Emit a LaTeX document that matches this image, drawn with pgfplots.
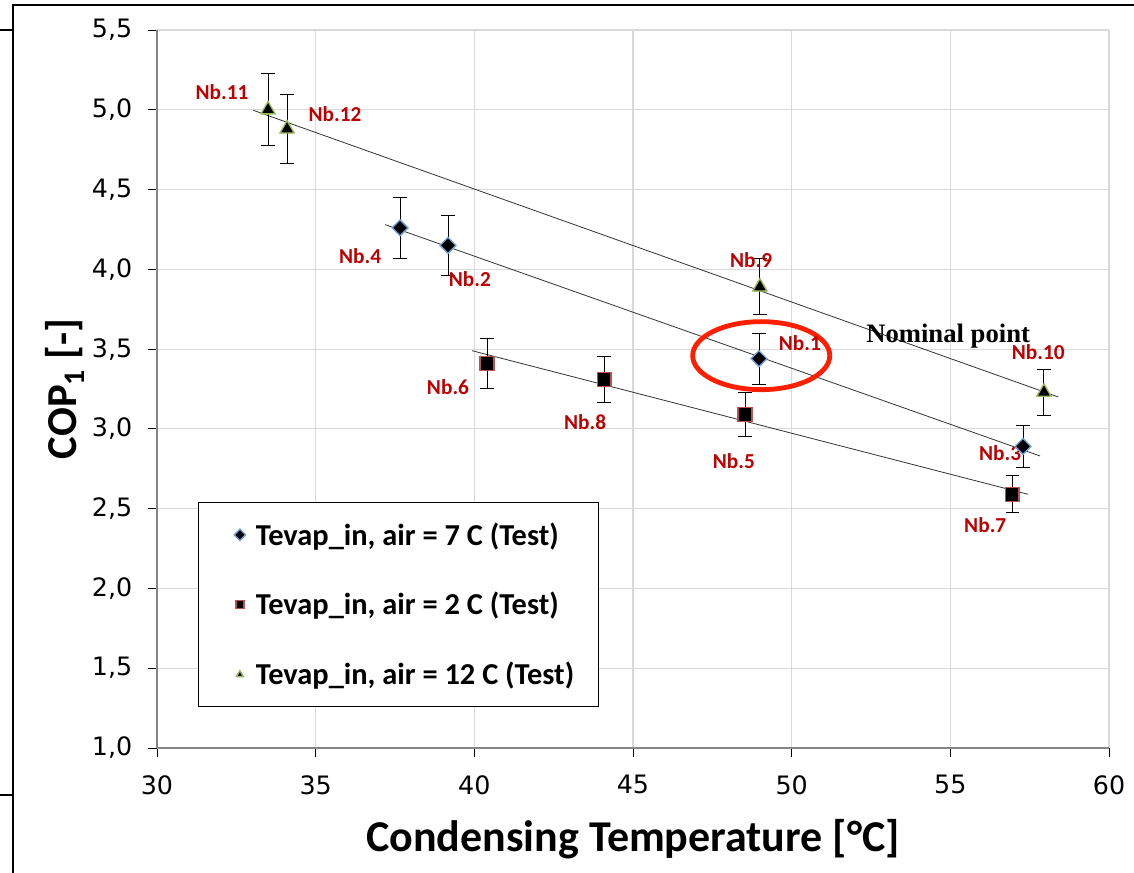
\documentclass[border=0pt]{standalone}
\usepackage{fontspec}
\setmainfont{Carlito}
\newfontfamily\tickfont{DejaVu Sans}
\newfontfamily\serifbf{Liberation Serif}
\usepackage{pgfplots}
\pgfplotsset{compat=1.18}

\definecolor{gridgray}{RGB}{217,217,217}
\definecolor{axisgray}{RGB}{134,134,134}
\definecolor{lblred}{RGB}{192,0,0}
\definecolor{edgeblue}{RGB}{110,160,220}
\definecolor{edgered}{RGB}{192,80,77}
\definecolor{edgegreen}{RGB}{155,187,89}
\definecolor{ringred}{RGB}{255,30,0}

\pgfplotstableread{
x     y     e
37.66 4.26  0.19
39.17 4.15  0.19
48.97 3.44  0.16
57.29 2.89  0.13
}\tsevenC
\pgfplotstableread{
x     y     e
40.40 3.41  0.155
44.09 3.31  0.145
48.53 3.09  0.14
56.95 2.59  0.115
}\ttwoC
\pgfplotstableread{
x     y     e
33.50 5.00  0.225
34.10 4.88  0.215
49.00 3.89  0.175
57.95 3.23  0.145
}\ttwelveC

\begin{document}
\begin{tikzpicture}
\begin{axis}[
  at={(0,0)}, anchor=south west,
  scale only axis,
  width=714pt, height=538.5pt,
  xmin=30, xmax=60, ymin=1, ymax=5.5,
  xtick={30,35,...,60},
  ytick={1,1.5,...,5.5},
  grid=major,
  major grid style={gridgray, line width=0.8pt},
  axis x line*=bottom, axis y line*=left,
  axis line style={axisgray, line width=0.9pt},
  tick align=outside,
  major tick length=7pt,
  tick style={black, line width=0.6pt},
  /pgf/number format/assume math mode=true,
  tick label style={font=\tickfont\fontsize{19}{21}\selectfont},
  yticklabel style={xshift=-8pt, /pgf/number format/.cd, fixed, fixed zerofill, precision=1, use comma},
  xticklabel style={yshift=-10pt},
  xlabel={\bfseries Condensing Temperature [°C]},
  ylabel={\bfseries COP\textsubscript{1} [-]},
  xlabel style={font=\fontsize{33}{38}\selectfont, yshift=-12pt},
  ylabel style={font=\fontsize{32}{36}\selectfont, yshift=-1pt},
  legend style={at={(0.0431,0.3426)}, anchor=north west,
    draw=black, line width=0.8pt, fill=white,
    font=\bfseries\fontsize{22.8}{27}\selectfont,
    inner xsep=16pt, inner ysep=13pt, row sep=30pt,
    cells={anchor=west}},
  legend image code/.code={\path[draw=none, fill=none] (0pt,0pt) -- (25pt,0pt);
    \draw[#1, mark size=3pt, line width=0.6pt] plot coordinates {(15pt,0pt)};},
  error bars/error bar style={black, line width=0.7pt},
  error bars/error mark options={black, mark size=5pt, line width=0.7pt, rotate=90},
]
% trend lines
\addplot[black!80, line width=0.6pt, forget plot] coordinates {(37.19,4.28) (57.83,2.83)};
\addplot[black!80, line width=0.6pt, forget plot] coordinates {(39.93,3.49) (57.45,2.59)};
\addplot[black!80, line width=0.6pt, forget plot] coordinates {(33.03,4.997) (58.40,3.20)};

\addplot[only marks, mark=square*, mark size=4.2pt,
  mark options={fill=black, draw=edgeblue, line width=1pt, rotate=45},
  error bars/.cd, y dir=both, y explicit]
  table[x=x, y=y, y error=e] {\tsevenC};
\addlegendentry{Tevap\_in, air = 7 C (Test)}

\addplot[only marks, mark=square*, mark size=5.2pt,
  mark options={fill=black, draw=edgered, line width=1pt},
  error bars/.cd, y dir=both, y explicit]
  table[x=x, y=y, y error=e] {\ttwoC};
\addlegendentry{Tevap\_in, air = 2 C (Test)}

\addplot[only marks, mark=triangle*, mark size=6.2pt,
  mark options={fill=black, draw=edgegreen, line width=1pt},
  error bars/.cd, y dir=both, y explicit]
  table[x=x, y=y, y error=e] {\ttwelveC};
\addlegendentry{Tevap\_in, air = 12 C (Test)}

% annotations
\draw[ringred, line width=3.6pt] (axis cs:49.04,3.459) ellipse [x radius=51.4pt, y radius=25.5pt];
\node[font=\serifbf\bfseries\fontsize{20}{22}\selectfont] at (axis cs:54.93,3.58) {Nominal point};
\begin{scope}[every node/.style={text=lblred, font=\bfseries\fontsize{16}{18}\selectfont}]
\node at (axis cs:32.05,5.11) {Nb.11};
\node at (axis cs:35.61,4.97) {Nb.12};
\node at (axis cs:36.40,4.08) {Nb.4};
\node at (axis cs:39.86,3.94) {Nb.2};
\node at (axis cs:48.72,4.06) {Nb.9};
\node at (axis cs:50.26,3.54) {Nb.1};
\node at (axis cs:57.77,3.48) {Nb.10};
\node at (axis cs:56.57,2.85) {Nb.3};
\node at (axis cs:56.10,2.40) {Nb.7};
\node at (axis cs:39.17,3.26) {Nb.6};
\node at (axis cs:43.49,3.04) {Nb.8};
\node at (axis cs:48.18,2.80) {Nb.5};
\end{scope}
\end{axis}
% frame of the page
\draw[black, line width=2pt] (-108pt,-93.75pt) -- (-108pt,557.25pt) -- (732.75pt,557.25pt);
\draw[black, line width=1pt] (-117.75pt,538.5pt) -- (-108pt,538.5pt);
\draw[black, line width=1pt] (-117.75pt,-35.25pt) -- (-108pt,-35.25pt);
\pgfresetboundingbox
\path[use as bounding box] (-117.75pt,-93.75pt) rectangle ++(850.5pt,654.75pt);
\end{tikzpicture}
\end{document}
